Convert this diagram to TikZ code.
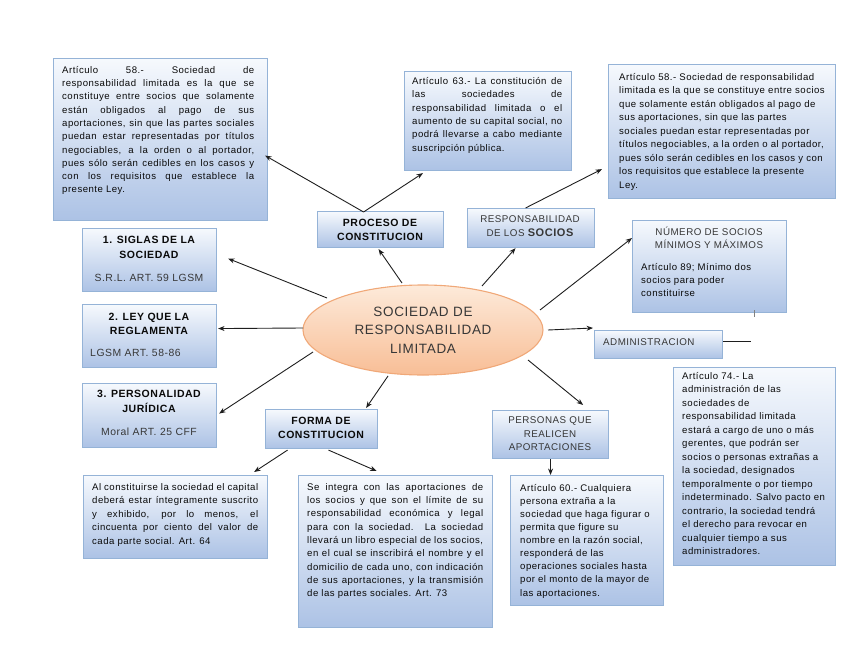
\documentclass[tikz,border=0pt]{standalone}
\usepackage{fontspec}
\setmainfont{Liberation Sans}[LetterSpace=5]
\usetikzlibrary{arrows.meta,shapes.geometric}
\definecolor{boxborder}{RGB}{149,179,215}
\definecolor{boxtop}{RGB}{246,249,253}
\definecolor{boxbot}{RGB}{172,194,229}
\definecolor{elltop}{RGB}{253,234,218}
\definecolor{ellbot}{RGB}{248,190,150}
\definecolor{ellborder}{RGB}{240,168,120}
\definecolor{txt}{RGB}{10,10,10}
\definecolor{txtgray}{RGB}{55,55,55}
\definecolor{arrowc}{RGB}{30,30,30}
\newcommand\jl[2]{\makebox[#1][s]{#2}}
\newcommand\tp{\rule{0pt}{7pt}}
\begin{document}
\begin{tikzpicture}[x=1pt,y=-1pt,
 cbox/.style={draw=boxborder,line width=1.1pt,top color=boxtop,bottom color=boxbot,anchor=north west,inner sep=0pt},
 bodytxt/.style={anchor=north west,inner sep=0pt,align=left,text=txt,font=\fontsize{9.6}{13.3}\selectfont},
 headtxt/.style={inner sep=0pt,align=center,text=txt,font=\bfseries\fontsize{10.5}{14.5}\selectfont},
 regtxt/.style={inner sep=0pt,align=center,text=txtgray,font=\fontsize{9.8}{13.5}\selectfont},
 subtxt/.style={inner sep=0pt,text=txtgray,font=\fontsize{10.4}{12}\selectfont},
 arr/.style={draw=arrowc,line width=0.9pt,-{Stealth[length=6.5pt,width=5pt]}},
 plainline/.style={draw=arrowc,line width=0.9pt}
]
\useasboundingbox (0,0) rectangle (848,655);

% ---------- boxes ----------
\node[cbox,minimum width=214pt,minimum height=162pt] (b1) at (53,58) {};
\node[bodytxt] (t1) at (62,66) {\tp\jl{192pt}{Artículo 58.- Sociedad de}\\
\jl{192pt}{responsabilidad limitada es la que se}\\
\jl{192pt}{constituye entre socios que solamente}\\
\jl{192pt}{están obligados al pago de sus}\\
\jl{192pt}{aportaciones, sin que las partes sociales}\\
\jl{192pt}{puedan estar representadas por títulos}\\
\jl{192pt}{negociables, a la orden o al portador,}\\
\jl{192pt}{pues sólo serán cedibles en los casos y}\\
\jl{192pt}{con los requisitos que establece la}\\
presente Ley.};

\node[cbox,minimum width=167pt,minimum height=99pt] (b2) at (404,71) {};
\node[bodytxt,font=\fontsize{9.6}{13.4}\selectfont] (t2) at (412,77) {\tp\jl{150pt}{Artículo 63.- La constitución de}\\
\jl{150pt}{las sociedades de}\\
\jl{150pt}{responsabilidad limitada o el}\\
\jl{150pt}{aumento de su capital social, no}\\
\jl{150pt}{podrá llevarse a cabo mediante}\\
suscripción pública.};

\node[cbox,minimum width=227pt,minimum height=134pt] (b3) at (608,64) {};
\node[bodytxt,font=\fontsize{9.6}{13.5}\selectfont] (t3) at (619,73) {\tp Artículo 58.- Sociedad de responsabilidad\\
limitada es la que se constituye entre socios\\
que solamente están obligados al pago de\\
sus aportaciones, sin que las partes\\
sociales puedan estar representadas por\\
títulos negociables, a la orden o al portador,\\
pues sólo serán cedibles en los casos y con\\
los requisitos que establece la presente\\
Ley.};

\node[cbox,minimum width=134pt,minimum height=63pt] (b4) at (82,228) {};
\node[headtxt] (h4) at (149,247.5) {1. SIGLAS DE LA\\SOCIEDAD};
\node[subtxt] (s4) at (149,278) {S.R.L. ART. 59 LGSM};

\node[cbox,minimum width=134pt,minimum height=63pt] (b5) at (82,304) {};
\node[headtxt] (h5) at (149,324) {2. LEY QUE LA\\REGLAMENTA};
\node[subtxt,anchor=west] (s5) at (90,353) {LGSM ART. 58-86};

\node[cbox,minimum width=134pt,minimum height=64pt] (b6) at (82,383) {};
\node[headtxt] (h6) at (149,401.5) {3. PERSONALIDAD\\JURÍDICA};
\node[subtxt] (s6) at (149,432) {Moral ART. 25 CFF};

\node[cbox,minimum width=126pt,minimum height=36pt] (b7) at (317,211) {};
\node[headtxt] (h7) at (380,230) {PROCESO DE\\CONSTITUCION};

\node[cbox,minimum width=127pt,minimum height=39pt] (b8) at (467,208) {};
\node[regtxt] (h8) at (530,226) {RESPONSABILIDAD\\DE LOS {\bfseries\fontsize{11}{13.5}\selectfont SOCIOS}};

\node[ellipse,draw=ellborder,line width=1.1pt,top color=elltop,bottom color=ellbot,
  minimum width=240pt,minimum height=90pt,inner sep=0pt,align=center,text=txtgray,
  font=\fontsize{13.5}{18.5}\selectfont] (ell) at (423,330) {SOCIEDAD DE\\RESPONSABILIDAD\\LIMITADA};

\node[cbox,minimum width=154pt,minimum height=92pt] (b10) at (632,220) {};
\node[regtxt] (h10) at (709,238) {NÚMERO DE SOCIOS\\MÍNIMOS Y MÁXIMOS};
\node[bodytxt,font=\fontsize{9.6}{13}\selectfont] (t10) at (641,263) {\tp Artículo 89; Mínimo dos\\socios para poder\\constituirse};

\node[cbox,minimum width=128pt,minimum height=28pt] (b11) at (594,330) {};
\node[regtxt,anchor=west] (h11) at (603,342) {ADMINISTRACION};

\node[cbox,minimum width=162pt,minimum height=198pt] (b12) at (673,367) {};
\node[bodytxt,font=\fontsize{9.6}{13.5}\selectfont] (t12) at (682,372) {\tp Artículo 74.- La\\
administración de las\\
sociedades de\\
responsabilidad limitada\\
estará a cargo de uno o más\\
gerentes, que podrán ser\\
socios o personas extrañas a\\
la sociedad, designados\\
temporalmente o por tiempo\\
indeterminado. Salvo pacto en\\
contrario, la sociedad tendrá\\
el derecho para revocar en\\
cualquier tiempo a sus\\
administradores.};

\node[cbox,minimum width=112pt,minimum height=39pt] (b13) at (265,409) {};
\node[headtxt] (h13) at (321,428) {FORMA DE\\CONSTITUCION};

\node[cbox,minimum width=184pt,minimum height=83pt] (b14) at (83,475) {};
\node[bodytxt,font=\fontsize{9.6}{13.5}\selectfont] (t14) at (92,483) {\tp\jl{166pt}{Al constituirse la sociedad el capital}\\
\jl{166pt}{deberá estar íntegramente suscrito}\\
\jl{166pt}{y exhibido, por lo menos, el}\\
\jl{166pt}{cincuenta por ciento del valor de}\\
cada parte social. Art. 64};

\node[cbox,minimum width=194pt,minimum height=152pt] (b15) at (298,475) {};
\node[bodytxt] (t15) at (307,483) {\tp\jl{176pt}{Se integra con las aportaciones de}\\
\jl{176pt}{los socios y que son el límite de su}\\
\jl{176pt}{responsabilidad económica y legal}\\
\jl{176pt}{para con la sociedad. La sociedad}\\
\jl{176pt}{llevará un libro especial de los socios,}\\
\jl{176pt}{en el cual se inscribirá el nombre y el}\\
\jl{176pt}{domicilio de cada uno, con indicación}\\
\jl{176pt}{de sus aportaciones, y la transmisión}\\
de las partes sociales. Art. 73};

\node[cbox,minimum width=116pt,minimum height=48pt] (b16) at (492,410) {};
\node[regtxt] (h16) at (550,434) {PERSONAS QUE\\REALICEN\\APORTACIONES};

\node[cbox,minimum width=153pt,minimum height=130pt] (b17) at (510,475) {};
\node[bodytxt,font=\fontsize{9.6}{13.1}\selectfont] (t17) at (520,484) {\tp Artículo 60.- Cualquiera\\
persona extraña a la\\
sociedad que haga figurar o\\
permita que figure su\\
nombre en la razón social,\\
responderá de las\\
operaciones sociales hasta\\
por el monto de la mayor de\\
las aportaciones.};

% ---------- connectors ----------
\draw[arr] ([shift={(-96,-32)}]ell.center) -- ([shift={(11,-1.5)}]b4.east);
\draw[arr] ([shift={(-120,-2)}]ell.center) -- ([shift={(1,-7.5)}]b5.east);
\draw[arr] ([shift={(-110,22)}]ell.center) -- ([shift={(2,-2)}]b6.east);
\draw[arr] ([shift={(-21,-47)}]ell.center) -- ([shift={(-2,1)}]b7.south);
\draw[arr] ([shift={(59,-44)}]ell.center) -- ([shift={(-15.5,0)}]b8.south);
\draw[arr] ([shift={(117,-20)}]ell.center) -- ([shift={(0,18)}]b10.north west);
\draw[arr] ([shift={(125,0)}]ell.center) -- ([shift={(-1,-2)}]b11.north west);
\draw[arr] ([shift={(105,30)}]ell.center) -- ([shift={(-26,-5)}]b16.north east);
\draw[arr] ([shift={(-35,46)}]ell.center) -- ([shift={(-12,-1)}]b13.north east);
\draw[arr] ([shift={(-34,1)}]b13.south) -- ([shift={(-14,-3)}]b14.north east);
\draw[arr] ([shift={(7,1)}]b13.south) -- ([shift={(-19,-4)}]b15.north);
\draw[arr] (b16.south) -- (b16.south |- b17.north);
\draw[arr] ([shift={(-17,1)}]b7.north) -- ([shift={(-3,16)}]b1.east);
\draw[arr] ([shift={(-17,1)}]b7.north) -- ([shift={(19,2)}]b2.south west);
\draw[arr] ([shift={(-5.5,0)}]b8.north) -- ([shift={(-6,-30)}]b3.south west);
\draw[plainline] ([shift={(0,-3)}]b11.east) -- ++(28,0);
\draw[plainline,draw=gray] ([shift={(122,-3)}]b10.south west) -- ([shift={(122,4)}]b10.south west);
\end{tikzpicture}
\end{document}
